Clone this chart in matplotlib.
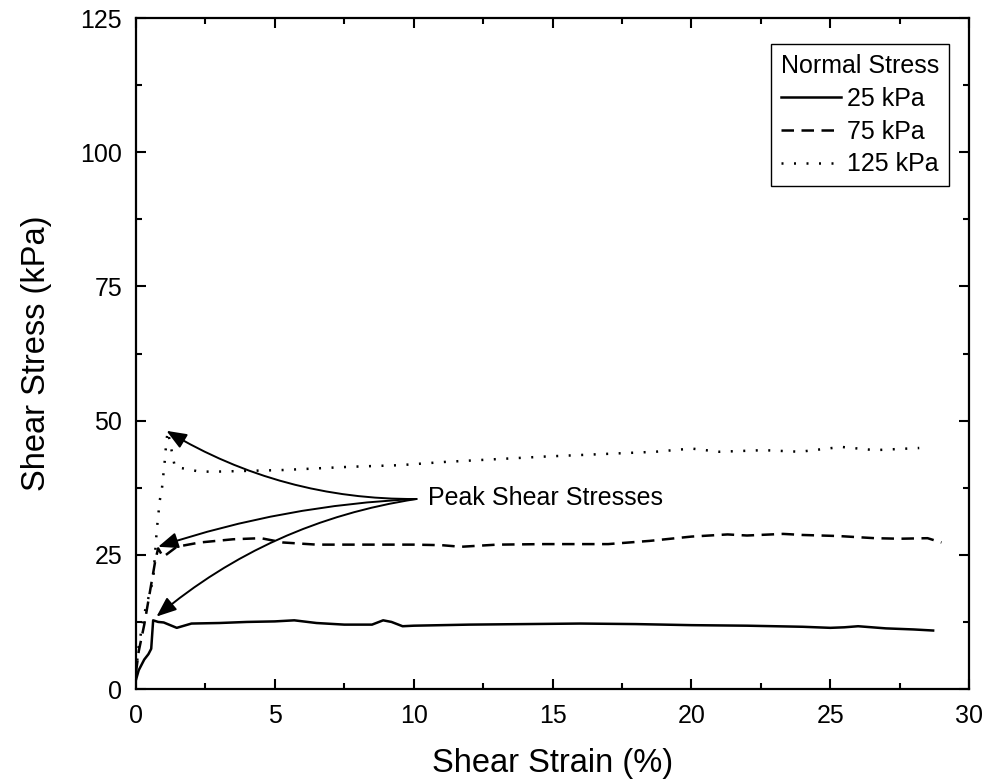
import matplotlib.pyplot as plt
from matplotlib.ticker import MultipleLocator

plt.rcParams['font.family'] = ['Liberation Sans', 'DejaVu Sans']

# 25 kPa normal stress (solid)
x25 = [0, 0.1, 0.3, 0.45, 0.55, 0.62, 0.8, 1.0, 1.47, 2.0, 3.0, 4.0, 5.0, 5.7, 6.5, 7.5,
       8.5, 8.9, 9.2, 9.6, 10, 12, 14, 16, 18, 20, 22, 24, 25, 25.5, 26, 27, 28, 28.7]
y25 = [1.7, 3.5, 5.5, 6.5, 7.5, 12.8, 12.5, 12.4, 11.4, 12.2, 12.3, 12.5, 12.6, 12.8, 12.3, 12.0,
       12.0, 12.8, 12.5, 11.7, 11.8, 12.0, 12.1, 12.2, 12.1, 11.9, 11.8, 11.6, 11.4, 11.5, 11.7, 11.3, 11.1, 10.9]

# 75 kPa normal stress (dashed)
x75 = [0, 0.1, 0.3, 0.5, 0.7, 0.8, 0.98, 1.47, 2.3, 3.5, 4.5, 5.3, 6.5, 8, 10, 11, 11.7,
       13, 14.7, 17, 18.5, 20, 21.3, 22, 23.3, 24, 25.3, 26.6, 27.5, 28.5, 29.0]
y75 = [3.0, 7.0, 12.0, 18.0, 24.0, 26.2, 24.6, 26.5, 27.3, 27.9, 28.1, 27.3, 26.9, 26.9, 26.9, 26.8, 26.5,
       26.9, 27.0, 27.0, 27.6, 28.4, 28.8, 28.6, 28.9, 28.7, 28.5, 28.1, 28.0, 28.1, 27.3]

# 125 kPa normal stress (dotted)
x125 = [0, 0.1, 0.3, 0.5, 0.62, 0.75, 0.86, 0.93, 1.04, 1.1, 1.15, 1.4, 2.3, 2.9, 5.3, 7.7, 9.5,
        11.1, 14.7, 18.7, 20, 21, 22.6, 23.9, 25.4, 26.6, 28.2]
y125 = [3.0, 8.0, 14.0, 18.0, 20.3, 29.6, 35.2, 37.0, 42.6, 46.4, 48.0, 41.4, 40.5, 40.5, 40.8, 41.4, 41.7,
        42.3, 43.3, 44.2, 44.8, 44.2, 44.5, 44.2, 45.1, 44.5, 44.9]

peak_label = 'Peak Shear Stresses'
peak_from = (10.1, 35.4)
peak_tips = [(1.1, 48.1), (0.8, 26.5), (0.74, 13.5)]
peak_rads = [-0.14, 0.07, 0.14]

fig = plt.figure(figsize=(9.85, 7.83), dpi=100)
ax = fig.add_axes([0.138, 0.12, 0.846, 0.857])

ax.plot(x25, y25, color='black', lw=1.8, label='25 kPa')
ax.plot(x75, y75, color='black', lw=1.8, dashes=(5.0, 3.0), label='75 kPa')
ax.plot(x125, y125, color='black', lw=1.8, dashes=(0.8, 4.2), label='125 kPa')

for tip, rad in zip(peak_tips, peak_rads):
    ax.annotate('', xy=tip, xytext=peak_from,
                arrowprops=dict(arrowstyle='-|>,head_length=0.55,head_width=0.22',
                                connectionstyle='arc3,rad=%s' % rad,
                                color='black', lw=1.4, shrinkA=0, shrinkB=0,
                                mutation_scale=22))
ax.text(10.5, 35.6, peak_label, fontsize=18, va='center', ha='left')

ax.set_xlim(0, 30)
ax.set_ylim(0, 125)
ax.xaxis.set_major_locator(MultipleLocator(5))
ax.xaxis.set_minor_locator(MultipleLocator(2.5))
ax.yaxis.set_major_locator(MultipleLocator(25))
ax.yaxis.set_minor_locator(MultipleLocator(12.5))
ax.tick_params(which='both', direction='in', top=True, right=True, width=1.5)
ax.tick_params(which='major', length=7, labelsize=18)
ax.tick_params(axis='x', which='major', pad=11)
ax.tick_params(axis='y', which='major', pad=10)
ax.tick_params(which='minor', length=4)
for s in ax.spines.values():
    s.set_linewidth(1.6)

ax.set_xlabel('Shear Strain (%)', fontsize=23.5, labelpad=14)
ax.set_ylabel('Shear Stress (kPa)', fontsize=23.5, labelpad=20)

leg = ax.legend(title='Normal Stress', loc='upper right', bbox_to_anchor=(0.976, 0.961),
                fontsize=18, title_fontsize=18, handlelength=2.4, handletextpad=0.25,
                labelspacing=0.35, borderpad=0.4, borderaxespad=0, fancybox=False,
                framealpha=1, edgecolor='black')
leg.get_frame().set_linewidth(1.0)

fig.savefig('out.png', dpi=100)
